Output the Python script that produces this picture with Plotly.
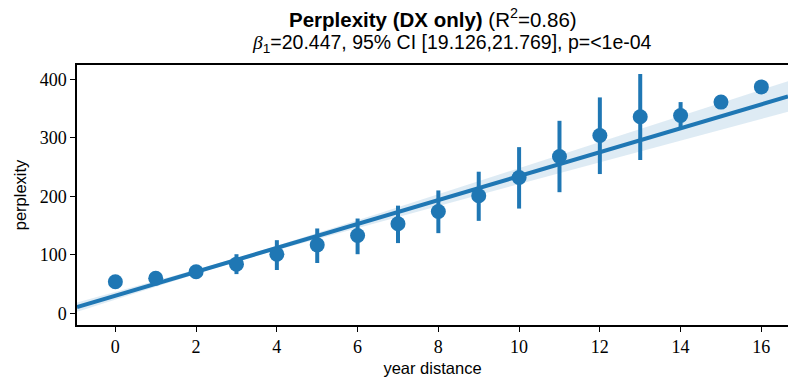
import numpy as np
import plotly.graph_objects as go

# Mean perplexity per year distance, with 95% interval bounds
year_distance = [0, 1, 2, 3, 4, 5, 6, 7, 8, 9, 10, 11, 12, 13, 14, 15, 16]
perplexity_mean = [54, 60, 71, 84, 101, 117, 133, 153, 174, 201, 232, 268, 304, 336, 338, 361, 387]
ci_upper = [54, 60, 73, 101, 125, 145, 162, 184, 210, 242, 284, 329, 369, 409, 361, 363, 387]
ci_lower = [54, 60, 69, 67, 74, 86, 101, 120, 137, 158, 179, 207, 238, 262, 316, 359, 387]

# Regression fit reported in the title
beta0 = 30.0
beta1 = 20.447
beta1_ci = (19.126, 21.769)
r2 = 0.86
p_text = "<1e-04"

# Band spread of the fitted line (grows away from the dense low-distance data)
band_a, band_b, band_xc = 3.0, 1.9, 3.0

x_range = [-0.95, 16.66]
y_range = [-20, 424.4]

blue = "#1f77b4"
serif = "Liberation Serif"
sans = "Liberation Sans"

xs = np.linspace(x_range[0], x_range[1], 200)
fit = beta0 + beta1 * xs
half = np.sqrt(band_a ** 2 + (band_b * (xs - band_xc)) ** 2)

err_plus = [u - m for u, m in zip(ci_upper, perplexity_mean)]
err_minus = [m - l for m, l in zip(perplexity_mean, ci_lower)]

fig = go.Figure()

fig.add_trace(go.Scatter(
    x=np.concatenate([xs, xs[::-1]]),
    y=np.concatenate([fit + half, (fit - half)[::-1]]),
    fill="toself", fillcolor="rgba(31,119,180,0.15)",
    line=dict(width=0), mode="lines", hoverinfo="skip", showlegend=False,
))
fig.add_trace(go.Scatter(
    x=xs, y=fit, mode="lines",
    line=dict(color=blue, width=4), showlegend=False,
))
fig.add_trace(go.Scatter(
    x=year_distance, y=perplexity_mean, mode="markers",
    marker=dict(color=blue, size=15, line=dict(width=0)),
    error_y=dict(type="data", symmetric=False, array=err_plus,
                 arrayminus=err_minus, color=blue, thickness=4, width=0),
    showlegend=False,
))

line1 = f"<b>Perplexity (DX only)</b> (R<sup>2</sup>={r2:.2f})"
line2 = (
    f"<span style='font-family:Liberation Serif'><i>β</i></span><sub>1</sub>={beta1:.3f}, "
    f"95% CI [{beta1_ci[0]:.3f},{beta1_ci[1]:.3f}], p={p_text.replace('<', '&lt;')}"
)

fig.add_annotation(text=line1, xref="paper", yref="paper", x=0.5, y=1.0,
                   xanchor="center", yanchor="bottom", yshift=32, showarrow=False,
                   font=dict(family=sans, size=20.5, color="black"))
fig.add_annotation(text=line2, xref="paper", yref="paper", x=0.5, y=1.0,
                   xanchor="center", yanchor="bottom", xshift=19, yshift=7,
                   showarrow=False,
                   font=dict(family=sans, size=19.5, color="black"))

fig.update_layout(
    width=788, height=381,
    margin=dict(l=77, r=0, t=65, b=56),
    paper_bgcolor="white", plot_bgcolor="white",
)

fig.update_xaxes(
    range=x_range, tick0=0, dtick=2, mirror=True,
    showgrid=False, zeroline=False,
    showline=True, linecolor="black", linewidth=1.5,
    ticks="outside", ticklen=5, tickwidth=1.2, tickcolor="black",
    tickfont=dict(family=serif, size=18, color="black"),
    title=dict(text="year distance", standoff=6,
               font=dict(family=sans, size=16.5, color="black")),
)
fig.update_yaxes(
    range=y_range, tick0=0, dtick=100,
    showgrid=False, zeroline=False,
    showline=True, linecolor="black", linewidth=1.5,
    ticks="outside", ticklen=5, tickwidth=1.2, tickcolor="black",
    tickfont=dict(family=serif, size=18, color="black"),
    title=dict(text="perplexity", standoff=9,
               font=dict(family=sans, size=16.5, color="black")),
)

fig.write_html("out.html")
